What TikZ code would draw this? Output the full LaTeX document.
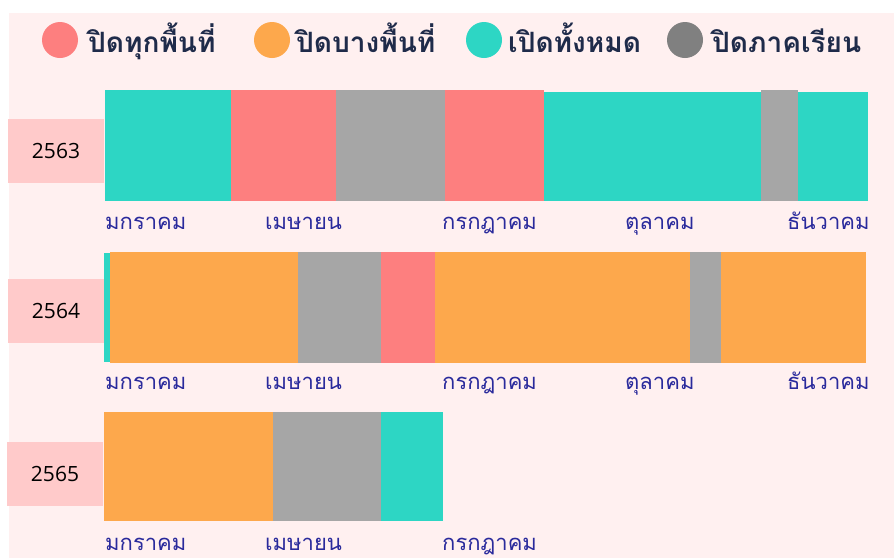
\documentclass[tikz,border=0pt]{standalone}
\usepackage{fontspec}
\newfontfamily\thaifont[Script=Thai]{Loma}
\newfontfamily\numfont{Open Sans}
\definecolor{bgpink}{HTML}{FFF0F0}
\definecolor{cred}{HTML}{FD7F7F}
\definecolor{corange}{HTML}{FDA84C}
\definecolor{cteal}{HTML}{2DD6C4}
\definecolor{cgray}{HTML}{A6A6A6}
\definecolor{cdgray}{HTML}{808080}
\definecolor{yearbox}{HTML}{FFCACA}
\definecolor{monthtxt}{HTML}{2A2A9C}
\definecolor{legtxt}{HTML}{1F2B4A}
\tikzset{
  legtext/.style={anchor=base west, inner sep=0pt, text=legtxt, font=\thaifont\bfseries\fontsize{28}{30}\selectfont},
  month/.style={anchor=base west, inner sep=0pt, text=monthtxt, font=\thaifont\fontsize{22}{26}\selectfont},
  yearlbl/.style={fill=yearbox, inner sep=0pt, font=\numfont\fontsize{21}{24}\selectfont, text=black},
}
\begin{document}
\begin{tikzpicture}[x=1pt,y=-1pt]
\useasboundingbox (0,0) rectangle (894,558);
\fill[white] (0,0) rectangle (894,558);
\fill[bgpink] (9,13) rectangle (894,558);
% legend
\fill[cred] (60,40) circle (18);
\node[legtext] (l1) at (88,52) {ปิดทุกพื้นที่};
\fill[corange] (272,40) circle (18);
\node[legtext] (l2) at (296,52) {ปิดบางพื้นที่};
\fill[cteal] (484,40) circle (18);
\node[legtext] (l3) at (508,52) {เปิดทั้งหมด};
\fill[cdgray] (685,40) circle (18);
\node[legtext] (l4) at (712,52) {ปิดภาคเรียน};
% row 2563
\node[yearlbl, minimum width=96pt, minimum height=64pt] (y1) at (56,151) {2563};
\fill[cteal] (105,90) rectangle (231,201);
\fill[cred] (231,90) rectangle (336,201);
\fill[cgray] (336,90) rectangle (445,201);
\fill[cred] (445,90) rectangle (544,201);
\fill[cteal] (544,92) rectangle (761,201);
\fill[cgray] (761,90) rectangle (798,201);
\fill[cteal] (798,92) rectangle (868,201);
\node[month] (m11) at (105,229) {มกราคม};
\node[month] (m12) at (265,229) {เมษายน};
\node[month] (m13) at (442,229) {กรกฎาคม};
\node[month] (m14) at (625,229) {ตุลาคม};
\node[month] (m15) at (787,229) {ธันวาคม};
% row 2564
\node[yearlbl, minimum width=96pt, minimum height=64pt] (y2) at (56,311) {2564};
\fill[cteal] (104,253) rectangle (110,362);
\fill[corange] (110,252) rectangle (298,363);
\fill[cgray] (298,252) rectangle (381,363);
\fill[cred] (381,252) rectangle (435,363);
\fill[corange] (435,252) rectangle (690,363);
\fill[cgray] (690,252) rectangle (721,363);
\fill[corange] (721,252) rectangle (866,363);
\node[month] (m21) at (105,389) {มกราคม};
\node[month] (m22) at (265,389) {เมษายน};
\node[month] (m23) at (442,389) {กรกฎาคม};
\node[month] (m24) at (625,389) {ตุลาคม};
\node[month] (m25) at (787,389) {ธันวาคม};
% row 2565
\node[yearlbl, minimum width=96pt, minimum height=64pt] (y3) at (55,474) {2565};
\fill[corange] (104,412) rectangle (273,521);
\fill[cgray] (273,412) rectangle (381,521);
\fill[cteal] (381,412) rectangle (443,521);
\node[month] (m31) at (105,550) {มกราคม};
\node[month] (m32) at (265,550) {เมษายน};
\node[month] (m33) at (442,550) {กรกฎาคม};
\end{tikzpicture}
\end{document}
